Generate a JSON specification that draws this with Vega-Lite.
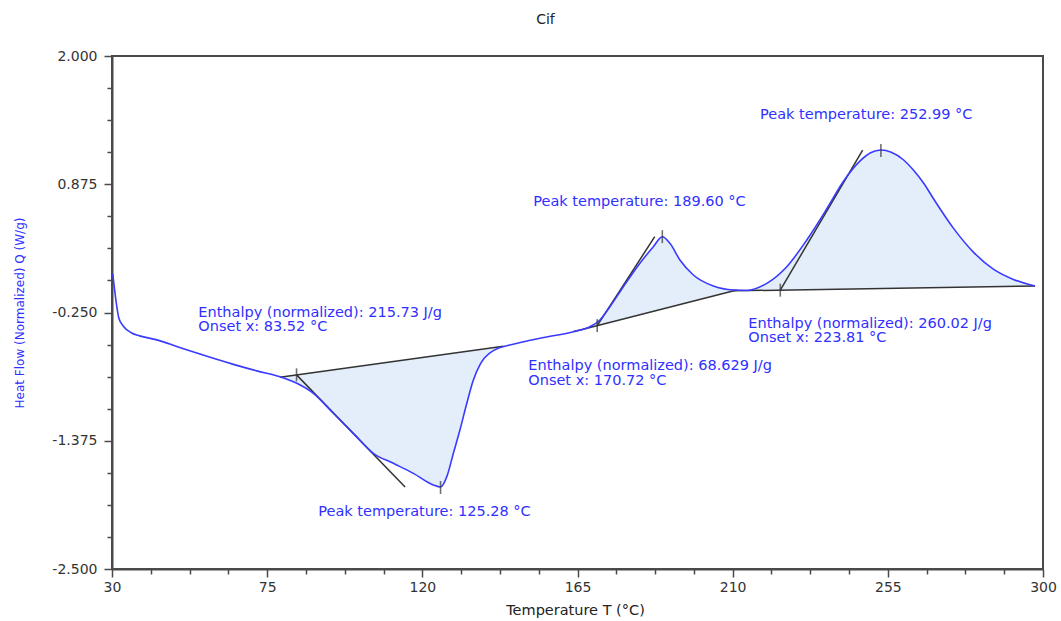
{
  "$schema": "https://vega.github.io/schema/vega-lite/v6.json",
  "width": 931,
  "height": 513,
  "autosize": {"type": "none"},
  "padding": {"left": 112, "top": 56, "right": 18, "bottom": 52},
  "background": "white",
  "title": {
    "text": "Cif",
    "font": "DejaVu Sans",
    "fontSize": 14,
    "fontWeight": "normal",
    "color": "#222",
    "dx": -32,
    "offset": 22
  },
  "config": {
    "view": {"stroke": "#4a4a4a", "strokeWidth": 2},
    "axis": {
      "grid": false,
      "domainColor": "#4a4a4a",
      "domainWidth": 2,
      "tickColor": "#4a4a4a",
      "tickWidth": 1.5,
      "labelFont": "DejaVu Sans",
      "labelFontSize": 14,
      "labelColor": "#333",
      "labelOverlap": false,
      "labelBound": false,
      "labelFlush": false,
      "titleFont": "DejaVu Sans",
      "titleFontWeight": "normal"
    }
  },
  "datasets": {
    "curve": [
      {"T": 30.2, "Q": 0.09}, {"T": 30.6, "Q": -0.01}, {"T": 31.4, "Q": -0.2},
      {"T": 32.0, "Q": -0.3}, {"T": 33.3, "Q": -0.37}, {"T": 35.7, "Q": -0.43},
      {"T": 38.0, "Q": -0.455}, {"T": 43.0, "Q": -0.49}, {"T": 49.0, "Q": -0.55},
      {"T": 55.5, "Q": -0.615}, {"T": 65.2, "Q": -0.705},
      {"T": 72.0, "Q": -0.762}, {"T": 78.7, "Q": -0.813}, {"T": 83.6, "Q": -0.871},
      {"T": 88.4, "Q": -0.959}, {"T": 94.2, "Q": -1.134}, {"T": 100.0, "Q": -1.31},
      {"T": 105.8, "Q": -1.485}, {"T": 111.6, "Q": -1.573}, {"T": 117.4, "Q": -1.661},
      {"T": 123.2, "Q": -1.763}, {"T": 125.28, "Q": -1.781}, {"T": 127.1, "Q": -1.69},
      {"T": 129.0, "Q": -1.485}, {"T": 130.9, "Q": -1.281}, {"T": 132.9, "Q": -1.046},
      {"T": 134.8, "Q": -0.842}, {"T": 136.7, "Q": -0.71}, {"T": 138.0, "Q": -0.65},
      {"T": 139.6, "Q": -0.605}, {"T": 142.5, "Q": -0.558}, {"T": 145.4, "Q": -0.535},
      {"T": 154.1, "Q": -0.476},
      {"T": 163.8, "Q": -0.418}, {"T": 168.6, "Q": -0.375}, {"T": 171.5, "Q": -0.316},
      {"T": 174.4, "Q": -0.199}, {"T": 178.3, "Q": -0.024}, {"T": 183.1, "Q": 0.182},
      {"T": 187.0, "Q": 0.327}, {"T": 189.6, "Q": 0.415}, {"T": 191.8, "Q": 0.357},
      {"T": 194.7, "Q": 0.211}, {"T": 198.6, "Q": 0.079}, {"T": 204.4, "Q": -0.018},
      {"T": 210.2, "Q": -0.053}, {"T": 214.1, "Q": -0.057}, {"T": 219.9, "Q": 0.006},
      {"T": 225.7, "Q": 0.152}, {"T": 231.5, "Q": 0.386}, {"T": 237.3, "Q": 0.66},
      {"T": 242.1, "Q": 0.9}, {"T": 246.9, "Q": 1.078}, {"T": 250.0, "Q": 1.151},
      {"T": 252.99, "Q": 1.175}, {"T": 256.0, "Q": 1.156}, {"T": 259.5, "Q": 1.09},
      {"T": 262.4, "Q": 1.0}, {"T": 265.5, "Q": 0.88}, {"T": 268.2, "Q": 0.75},
      {"T": 274.0, "Q": 0.49}, {"T": 279.8, "Q": 0.28},
      {"T": 285.6, "Q": 0.13}, {"T": 291.4, "Q": 0.04}, {"T": 297.7, "Q": -0.018}
    ],
    "fill": [
      {"peak": 1, "T": 78.7, "Q": -0.813, "base": -0.813},
      {"peak": 1, "T": 83.6, "Q": -0.871, "base": -0.797},
      {"peak": 1, "T": 88.4, "Q": -0.959, "base": -0.777},
      {"peak": 1, "T": 94.2, "Q": -1.134, "base": -0.753},
      {"peak": 1, "T": 100.0, "Q": -1.31, "base": -0.728},
      {"peak": 1, "T": 105.8, "Q": -1.485, "base": -0.704},
      {"peak": 1, "T": 111.6, "Q": -1.573, "base": -0.679},
      {"peak": 1, "T": 117.4, "Q": -1.661, "base": -0.655},
      {"peak": 1, "T": 123.2, "Q": -1.763, "base": -0.63},
      {"peak": 1, "T": 125.28, "Q": -1.781, "base": -0.622},
      {"peak": 1, "T": 127.1, "Q": -1.69, "base": -0.614},
      {"peak": 1, "T": 129.0, "Q": -1.485, "base": -0.606},
      {"peak": 1, "T": 130.9, "Q": -1.281, "base": -0.598},
      {"peak": 1, "T": 132.9, "Q": -1.046, "base": -0.59},
      {"peak": 1, "T": 134.8, "Q": -0.842, "base": -0.582},
      {"peak": 1, "T": 136.7, "Q": -0.71, "base": -0.574},
      {"peak": 1, "T": 138.0, "Q": -0.65, "base": -0.568},
      {"peak": 1, "T": 139.6, "Q": -0.605, "base": -0.561},
      {"peak": 1, "T": 142.5, "Q": -0.558, "base": -0.549},
      {"peak": 1, "T": 143.5, "Q": -0.549, "base": -0.545},
      {"peak": 2, "T": 163.8, "Q": -0.418, "base": -0.418},
      {"peak": 2, "T": 168.6, "Q": -0.375, "base": -0.381},
      {"peak": 2, "T": 171.5, "Q": -0.316, "base": -0.359},
      {"peak": 2, "T": 174.4, "Q": -0.199, "base": -0.336},
      {"peak": 2, "T": 178.3, "Q": -0.024, "base": -0.306},
      {"peak": 2, "T": 183.1, "Q": 0.182, "base": -0.269},
      {"peak": 2, "T": 187.0, "Q": 0.327, "base": -0.239},
      {"peak": 2, "T": 189.6, "Q": 0.415, "base": -0.219},
      {"peak": 2, "T": 191.8, "Q": 0.357, "base": -0.202},
      {"peak": 2, "T": 194.7, "Q": 0.211, "base": -0.179},
      {"peak": 2, "T": 198.6, "Q": 0.079, "base": -0.149},
      {"peak": 2, "T": 204.4, "Q": -0.018, "base": -0.104},
      {"peak": 2, "T": 211.2, "Q": -0.055, "base": -0.055},
      {"peak": 3, "T": 210.2, "Q": -0.053, "base": -0.06},
      {"peak": 3, "T": 214.1, "Q": -0.057, "base": -0.058},
      {"peak": 3, "T": 219.9, "Q": 0.006, "base": -0.055},
      {"peak": 3, "T": 225.7, "Q": 0.152, "base": -0.053},
      {"peak": 3, "T": 231.5, "Q": 0.386, "base": -0.05},
      {"peak": 3, "T": 237.3, "Q": 0.66, "base": -0.047},
      {"peak": 3, "T": 242.1, "Q": 0.9, "base": -0.045},
      {"peak": 3, "T": 246.9, "Q": 1.078, "base": -0.042},
      {"peak": 3, "T": 250.0, "Q": 1.151, "base": -0.041},
      {"peak": 3, "T": 252.99, "Q": 1.175, "base": -0.039},
      {"peak": 3, "T": 256.0, "Q": 1.156, "base": -0.038},
      {"peak": 3, "T": 259.5, "Q": 1.09, "base": -0.036},
      {"peak": 3, "T": 262.4, "Q": 1.0, "base": -0.035},
      {"peak": 3, "T": 265.5, "Q": 0.88, "base": -0.033},
      {"peak": 3, "T": 268.2, "Q": 0.75, "base": -0.032},
      {"peak": 3, "T": 274.0, "Q": 0.49, "base": -0.029},
      {"peak": 3, "T": 279.8, "Q": 0.28, "base": -0.027},
      {"peak": 3, "T": 285.6, "Q": 0.13, "base": -0.024},
      {"peak": 3, "T": 291.4, "Q": 0.04, "base": -0.021},
      {"peak": 3, "T": 297.7, "Q": -0.018, "base": -0.018}
    ],
    "construction": [
      {"kind": "baseline", "T": 78.7, "Q": -0.818, "T2": 143.5, "Q2": -0.547},
      {"kind": "onset tangent", "T": 83.52, "Q": -0.797, "T2": 115.0, "Q2": -1.78},
      {"kind": "baseline", "T": 163.8, "Q": -0.418, "T2": 211.2, "Q2": -0.053},
      {"kind": "onset tangent", "T": 170.72, "Q": -0.365, "T2": 187.4, "Q2": 0.415},
      {"kind": "baseline", "T": 210.2, "Q": -0.06, "T2": 297.7, "Q2": -0.018},
      {"kind": "onset tangent", "T": 223.81, "Q": -0.054, "T2": 247.7, "Q2": 1.175}
    ],
    "markers": [
      {"kind": "onset", "T": 83.52, "Q": -0.797},
      {"kind": "onset", "T": 170.72, "Q": -0.365},
      {"kind": "onset", "T": 223.81, "Q": -0.054},
      {"kind": "peak", "T": 125.28, "Q": -1.785},
      {"kind": "peak", "T": 189.6, "Q": 0.415},
      {"kind": "peak", "T": 252.99, "Q": 1.171}
    ],
    "notes": [
      {"T": 55.03, "Q": -0.252, "label": "Enthalpy (normalized): 215.73 J/g\nOnset x: 83.52 °C"},
      {"T": 89.83, "Q": -1.997, "label": "Peak temperature: 125.28 °C"},
      {"T": 150.73, "Q": -0.722, "label": "Enthalpy (normalized): 68.629 J/g\nOnset x: 170.72 °C"},
      {"T": 152.18, "Q": 0.722, "label": "Peak temperature: 189.60 °C"},
      {"T": 214.54, "Q": -0.347, "label": "Enthalpy (normalized): 260.02 J/g\nOnset x: 223.81 °C"},
      {"T": 217.93, "Q": 1.482, "label": "Peak temperature: 252.99 °C"}
    ]
  },
  "encoding": {
    "x": {
      "field": "T",
      "type": "quantitative",
      "scale": {"domain": [30, 300], "nice": false, "zero": false},
      "axis": {
        "values": [30, 41.25, 52.5, 63.75, 75, 86.25, 97.5, 108.75, 120, 131.25, 142.5, 153.75, 165, 176.25, 187.5, 198.75, 210, 221.25, 232.5, 243.75, 255, 266.25, 277.5, 288.75, 300],
        "labelExpr": "(datum.value - 30) % 45 == 0 ? format(datum.value, 'd') : ''",
        "tickSize": {"condition": {"test": "(datum.value - 30) % 45 == 0", "value": 8}, "value": 5},
        "labelPadding": 3,
        "title": "Temperature T (°C)",
        "titleFontSize": 14.5,
        "titleColor": "#222",
        "titleBaseline": "middle",
        "titleX": 463,
        "titleY": 41
      }
    },
    "y": {
      "field": "Q",
      "type": "quantitative",
      "scale": {"domain": [-2.5, 2], "nice": false, "zero": false},
      "axis": {
        "values": [2, 1.71875, 1.4375, 1.15625, 0.875, 0.59375, 0.3125, 0.03125, -0.25, -0.53125, -0.8125, -1.09375, -1.375, -1.65625, -1.9375, -2.21875, -2.5],
        "labelExpr": "(datum.value + 2.5) % 1.125 == 0 ? replace(format(datum.value, '.3f'), '−', '-') : ''",
        "tickSize": {"condition": {"test": "(datum.value + 2.5) % 1.125 == 0", "value": 8}, "value": 5},
        "labelPadding": 7,
        "title": "Heat Flow (Normalized) Q (W/g)",
        "titleFontSize": 12,
        "titleColor": "#3030ff",
        "titleAngle": -90,
        "titleAlign": "center",
        "titleBaseline": "middle",
        "titleX": -93,
        "titleY": 256.5
      }
    }
  },
  "layer": [
    {
      "data": {"name": "fill"},
      "mark": {"type": "area", "color": "#e4eefa", "opacity": 1, "interpolate": "monotone"},
      "encoding": {
        "y2": {"field": "base"},
        "detail": {"field": "peak", "type": "nominal"}
      }
    },
    {
      "data": {"name": "construction"},
      "mark": {"type": "rule", "color": "#333", "strokeWidth": 1.5},
      "encoding": {
        "x2": {"field": "T2"},
        "y2": {"field": "Q2"}
      }
    },
    {
      "data": {"name": "curve"},
      "mark": {"type": "line", "color": "#3a3aff", "strokeWidth": 1.6, "interpolate": "monotone"}
    },
    {
      "data": {"name": "markers"},
      "mark": {"type": "tick", "orient": "vertical", "size": 13, "thickness": 1.6, "color": "#333"}
    },
    {
      "data": {"name": "notes"},
      "mark": {"type": "text", "align": "left", "baseline": "middle", "lineBreak": "\n", "lineHeight": 14.4, "font": "DejaVu Sans", "fontSize": 14.5, "color": "#3030ff"},
      "encoding": {
        "text": {"field": "label", "type": "nominal"}
      }
    }
  ]
}
